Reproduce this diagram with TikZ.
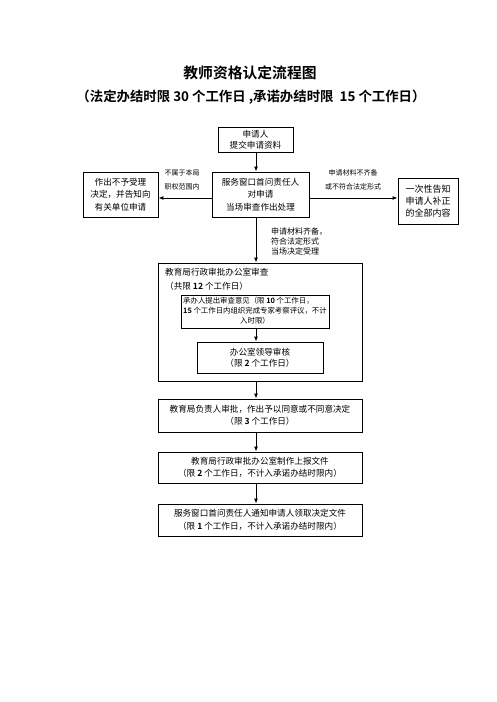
\documentclass[tikz,border=0pt]{standalone}
\usepackage{fontspec}
\setmainfont{Noto Sans CJK SC}[BoldFont={Noto Sans CJK SC Bold}]
\usetikzlibrary{arrows.meta}
\begin{document}
\begin{tikzpicture}[x=1pt,y=-1pt,
  box/.style={draw, line width=0.8pt, inner sep=0pt, align=center, font=\fontsize{8.6}{12.4}\selectfont},
  arr/.style={-{Latex[length=5pt,width=4pt]}, line width=1pt},
  lbl/.style={inner sep=0pt, align=center, font=\fontsize{7}{13.5}\selectfont},
  txt/.style={inner sep=0pt, anchor=west, font=\fontsize{8.6}{12.4}\selectfont}]
\useasboundingbox (0,0) rectangle (496,702);
\node[inner sep=0pt, font=\fontsize{14.8}{16}\selectfont\bfseries] (title) at (250,72.5) {教师资格认定流程图};
\node[inner sep=0pt, font=\fontsize{13.4}{15}\selectfont\bfseries] (sub) at (251,97) {（法定办结时限 30 个工作日 ,承诺办结时限~ 15 个工作日）};

\node[box, minimum width=75, minimum height=25, font=\fontsize{8.6}{10.5}\selectfont] (apply) at (255.5,139.5) {申请人\\提交申请资料};
\node[box, minimum width=97, minimum height=45] (center) at (260.5,194.5) {服务窗口首问责任人\\对申请\\当场审查作出处理};
\node[box, minimum width=75, minimum height=45] (left) at (120.5,194.5) {作出不予受理\\决定，并告知向\\有关单位申请};
\node[box, minimum width=60, minimum height=46, font=\fontsize{9}{11.8}\selectfont] (right) at (428,201) {一次性告知\\申请人补正\\的全部内容};

\node[draw, line width=0.8pt, inner sep=0pt, minimum width=204, minimum height=118] (outer) at (260,322) {};
\node[txt] (ot1) at (165,272) {教育局行政审批办公室审查};
\node[txt] (ot2) at (165,286) {（共限 \textbf{12} 个工作日）};
\node[box, minimum width=148, minimum height=33, font=\fontsize{7.4}{9.8}\selectfont] (inner1) at (255,311.5)
  {\begin{tabular}{@{}l@{}}承办人提出审查意见（限 \textbf{10} 个工作日，\\\textbf{15} 个工作日内组织完成专家考察评议，不计\\\multicolumn{1}{@{}c@{}}{入时限）}\end{tabular}};
\node[box, minimum width=126, minimum height=31, font=\fontsize{8.6}{11.2}\selectfont] (inner2) at (260,357.5) {办公室领导审核\\（限 \textbf{2} 个工作日）};
\node[box, minimum width=204, minimum height=33] (box4) at (260,415.5) {教育局负责人审批，作出予以同意或不同意决定\\（限 \textbf{3} 个工作日）};
\node[box, minimum width=204, minimum height=31] (box5) at (260,467.5) {教育局行政审批办公室制作上报文件\\（限 \textbf{2} 个工作日，不计入承诺办结时限内）};
\node[box, minimum width=204, minimum height=32] (box6) at (260,520) {服务窗口首问责任人通知申请人领取决定文件\\（限 \textbf{1} 个工作日，不计入承诺办结时限内）};

\node[lbl] (l1) at (182,180) {不属于本局\\职权范围内};
\node[lbl] (l2) at (353,180) {申请材料不齐备\\或不符合法定形式};
\node[lbl, anchor=west, align=left, font=\fontsize{8}{10}\selectfont] (l3) at (271,241) {申请材料齐备，\\符合法定形式\\当场决定受理};

\coordinate (ax) at (256,0);
\coordinate (ay) at (0,198);
\draw[arr] (apply.south -| ax) -- (center.north -| ax);
\draw[arr] (center.south -| ax) -- (outer.north -| ax);
\draw[arr] (inner1.south -| ax) -- (inner2.north -| ax);
\draw[arr] (outer.south -| ax) -- (box4.north -| ax);
\draw[arr] (box4.south -| ax) -- (box5.north -| ax);
\draw[arr] (box5.south -| ax) -- (box6.north -| ax);
\draw[arr] (center.west |- ay) -- (left.east |- ay);
\draw[arr] (center.east |- ay) -- (right.west |- ay);
\end{tikzpicture}
\end{document}
